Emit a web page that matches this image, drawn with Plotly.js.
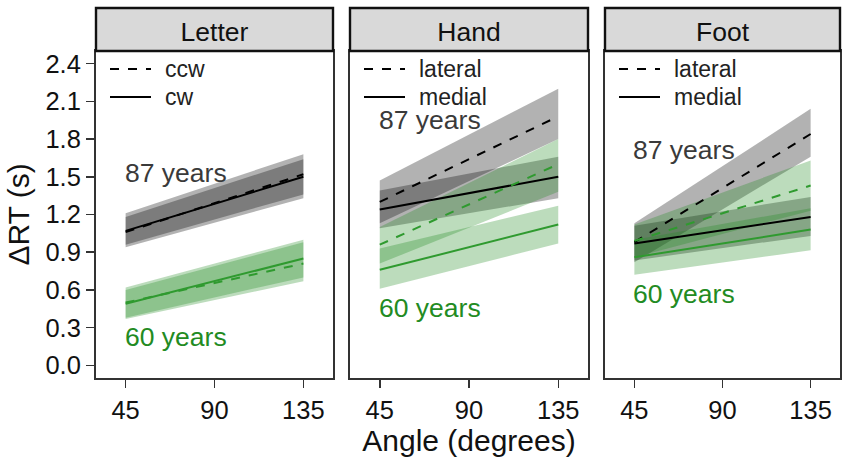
<!DOCTYPE html>
<html>
<head>
<meta charset="utf-8">
<script src="https://cdn.plot.ly/plotly-3.0.1.min.js"></script>
<style>
  body { margin: 0; background: #fff; }
  #myDiv { width: 850px; height: 466px; }
</style>
</head>
<body>
<div id="myDiv"></div>
<script>
// values (x = angle in degrees, y = delta RT in seconds)
var angles = [45, 135];
var panelNames = ["Letter", "Hand", "Foot"];
var dashedNames = ["ccw", "lateral", "lateral"];
var solidNames = ["cw", "medial", "medial"];
var yTicks = [0.0, 0.3, 0.6, 0.9, 1.2, 1.5, 1.8, 2.1, 2.4];

// Letter
var letterOldDash = [1.06, 1.52], letterOldDashLo = [0.94, 1.33], letterOldDashHi = [1.21, 1.68];
var letterOldSolid = [1.07, 1.50], letterOldSolidLo = [0.96, 1.36], letterOldSolidHi = [1.18, 1.64];
var letterYoungDash = [0.50, 0.81], letterYoungDashLo = [0.37, 0.67], letterYoungDashHi = [0.62, 1.00];
var letterYoungSolid = [0.49, 0.85], letterYoungSolidLo = [0.38, 0.70], letterYoungSolidHi = [0.60, 0.98];

// Hand
var handOldDash = [1.30, 1.98], handOldDashLo = [1.13, 1.80], handOldDashHi = [1.47, 2.20];
var handOldSolid = [1.24, 1.50], handOldSolidLo = [1.09, 1.33], handOldSolidHi = [1.39, 1.66];
var handYoungDash = [0.96, 1.60], handYoungDashLo = [0.81, 1.38], handYoungDashHi = [1.10, 1.80];
var handYoungSolid = [0.76, 1.12], handYoungSolidLo = [0.61, 0.97], handYoungSolidHi = [0.93, 1.27];

// Foot
var footOldDash = [0.98, 1.84], footOldDashLo = [0.82, 1.66], footOldDashHi = [1.13, 2.04];
var footOldSolid = [0.97, 1.18], footOldSolidLo = [0.835, 1.03], footOldSolidHi = [1.11, 1.34];
var footYoungDash = [0.99, 1.43], footYoungDashLo = [0.86, 1.23], footYoungDashHi = [1.12, 1.63];
var footYoungSolid = [0.86, 1.08], footYoungSolidLo = [0.72, 0.915], footYoungSolidHi = [1.00, 1.25];

// where the "87 years" / "60 years" labels sit, per panel
var oldLabelY = [1.53, 1.95, 1.71];
var youngLabelY = [0.225, 0.46, 0.57];

var panels = [
  [letterOldDash, letterOldDashLo, letterOldDashHi, letterOldSolid, letterOldSolidLo, letterOldSolidHi,
   letterYoungDash, letterYoungDashLo, letterYoungDashHi, letterYoungSolid, letterYoungSolidLo, letterYoungSolidHi],
  [handOldDash, handOldDashLo, handOldDashHi, handOldSolid, handOldSolidLo, handOldSolidHi,
   handYoungDash, handYoungDashLo, handYoungDashHi, handYoungSolid, handYoungSolidLo, handYoungSolidHi],
  [footOldDash, footOldDashLo, footOldDashHi, footOldSolid, footOldSolidLo, footOldSolidHi,
   footYoungDash, footYoungDashLo, footYoungDashHi, footYoungSolid, footYoungSolidLo, footYoungSolidHi]
];

var FONT = "Liberation Sans, Arial, sans-serif";
var GREEN = "#228B22", GREEN_LINE = "#2f9a2f";
var W = 850, H = 466;
var panelPx = [[96, 333], [350, 588], [605, 840]];
var plotTop = 51, plotBottom = 378, stripTop = 8;
var plotH = plotBottom - plotTop;

function ribbon(lo, hi, fill, ax) {
  return {
    type: "scatter", mode: "lines",
    x: [angles[0], angles[1], angles[1], angles[0]],
    y: [lo[0], lo[1], hi[1], hi[0]],
    fill: "toself", fillcolor: fill, line: {width: 0},
    hoverinfo: "skip", showlegend: false,
    xaxis: "x" + ax, yaxis: "y" + ax
  };
}

function fitLine(vals, color, dash, ax) {
  return {
    type: "scatter", mode: "lines", x: angles, y: vals,
    line: {color: color, width: 2, dash: dash},
    showlegend: false, xaxis: "x" + ax, yaxis: "y" + ax
  };
}

var data = [];
var layout = {
  width: W, height: H,
  margin: {t: 0, b: 0, l: 0, r: 0},
  paper_bgcolor: "#fff", plot_bgcolor: "#fff",
  font: {family: FONT, size: 25, color: "#111"},
  showlegend: false,
  shapes: [], annotations: []
};

for (var p = 0; p < 3; p++) {
  var ax = p === 0 ? "" : String(p + 1);
  var d = panels[p];
  var grey = "rgba(0,0,0,0.3)", green = "rgba(34,139,34,0.3)";
  var pw = panelPx[p][1] - panelPx[p][0];

  data.push(ribbon(d[1], d[2], grey, ax));
  data.push(ribbon(d[4], d[5], grey, ax));
  data.push(ribbon(d[7], d[8], green, ax));
  data.push(ribbon(d[10], d[11], green, ax));
  data.push(fitLine(d[0], "#000", "dash", ax));
  data.push(fitLine(d[3], "#000", "solid", ax));
  data.push(fitLine(d[6], GREEN_LINE, "dash", ax));
  data.push(fitLine(d[9], GREEN_LINE, "solid", ax));

  var x0 = panelPx[p][0] / W, x1 = panelPx[p][1] / W;
  layout["xaxis" + ax] = {
    domain: [x0, x1], range: [30, 150], anchor: "y" + ax,
    tickvals: [45, 90, 135], ticks: "outside", ticklen: 8, tickwidth: 1.5, tickcolor: "#333",
    showline: true, mirror: true, linecolor: "#333", linewidth: 2,
    showgrid: false, zeroline: false, tickfont: {size: 25.5, color: "#111"}
  };
  layout["yaxis" + ax] = {
    domain: [1 - plotBottom / H, 1 - plotTop / H], range: [-0.1, 2.5], anchor: "x" + ax,
    tickvals: yTicks, tickformat: ".1f", showticklabels: p === 0,
    ticks: p === 0 ? "outside" : "", ticklen: 8, tickwidth: 1.5, tickcolor: "#333",
    showline: true, mirror: true, linecolor: "#333", linewidth: 2,
    showgrid: false, zeroline: false, tickfont: {size: 25.5, color: "#111"}
  };

  // facet strip with its label
  layout.shapes.push({
    type: "rect", xref: "paper", yref: "paper",
    x0: x0, x1: x1, y0: 1 - plotTop / H, y1: 1 - stripTop / H,
    fillcolor: "#d9d9d9", line: {color: "#111", width: 2.4},
    label: {text: panelNames[p], textposition: "middle center",
            font: {family: FONT, size: 26.5, color: "#111"}}
  });

  // key inside each panel: dashed then solid
  var keyRows = [[69, "dash", dashedNames[p]], [97, "solid", solidNames[p]]];
  for (var k = 0; k < 2; k++) {
    var ky = (plotBottom - keyRows[k][0]) / plotH;
    layout.shapes.push({
      type: "line", xref: "x" + ax + " domain", yref: "y" + ax + " domain",
      x0: 14 / pw, x1: 55 / pw, y0: ky, y1: ky,
      line: {color: "#000", width: 2, dash: keyRows[k][1]}
    });
    layout.annotations.push({
      xref: "x" + ax + " domain", yref: "y" + ax + " domain",
      x: 67 / pw, y: ky, xanchor: "left", yanchor: "middle",
      text: keyRows[k][2], showarrow: false, font: {size: 23, color: "#222"}
    });
  }

  // age labels
  layout.annotations.push({
    xref: "x" + ax, yref: "y" + ax, x: 43.5, y: oldLabelY[p], xanchor: "left",
    text: "87 years", showarrow: false, font: {size: 26.5, color: "#3a3a3a"}
  });
  layout.annotations.push({
    xref: "x" + ax, yref: "y" + ax, x: 43.5, y: youngLabelY[p], xanchor: "left",
    text: "60 years", showarrow: false, font: {size: 26.5, color: GREEN}
  });
}

layout.xaxis2.title = {text: "Angle (degrees)", font: {size: 30, color: "#111"}, standoff: 6};
layout.yaxis.title = {text: "ΔRT (s)", font: {size: 30, color: "#111"}, standoff: 7};

Plotly.newPlot("myDiv", data, layout, {staticPlot: true});
</script>
</body>
</html>
